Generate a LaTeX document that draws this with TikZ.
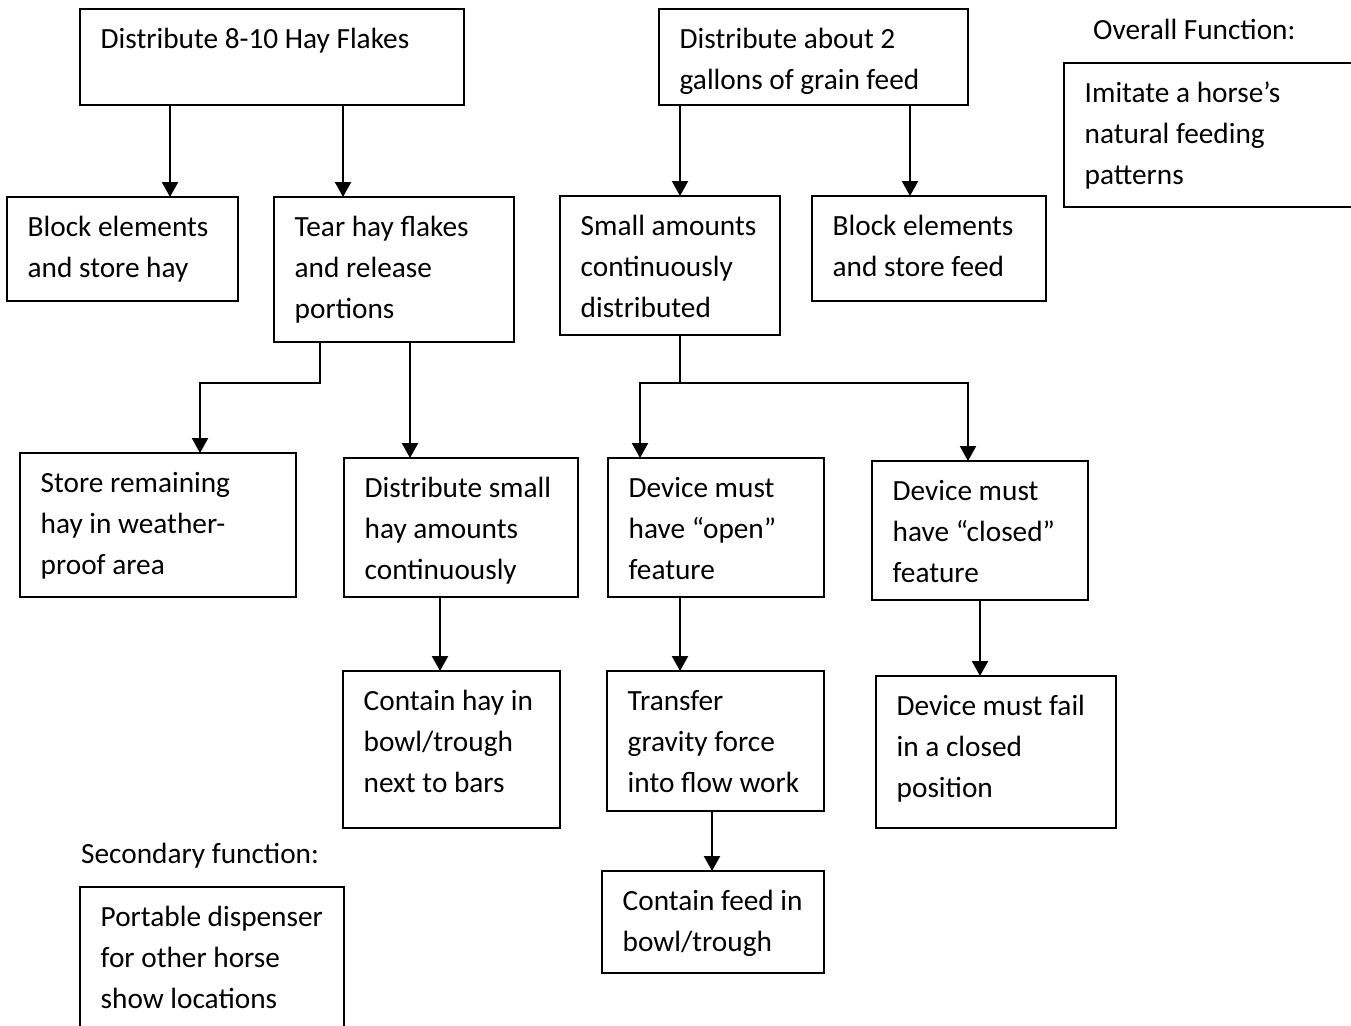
\documentclass[tikz,border=0pt]{standalone}
\usepackage{fontspec}
\setmainfont{Carlito}
\usetikzlibrary{arrows.meta,calc}
\newcommand\fbx[6]{%
  \node[box, minimum width={#4-#2}, minimum height={#5-#3}] (#1) at (#2,#3) {};
  \node[txt] (#1t) at (#2+20.5,#3+15) {\rule{0pt}{24pt}#6};
}
\begin{document}
\begin{tikzpicture}[x=1pt,y=-1pt,
  box/.style={draw, line width=2.5pt, anchor=north west, inner sep=0pt, outer sep=0pt},
  txt/.style={anchor=north west, align=left, inner sep=0pt, font=\fontsize{29.3}{41.2}\selectfont},
  conn/.style={line width=2.3pt},
  arr/.style={line width=2.3pt, -{Triangle[width=16pt,length=15pt]}}]
\useasboundingbox (0,0) rectangle (1351,1025);
\clip (0,0) rectangle (1351,1025);

\fbx{b1}{80}{9}{464}{105}{Distribute 8-10 Hay Flakes}
\fbx{b2}{659}{9}{968}{105}{Distribute about 2\\gallons of grain feed}
\fbx{bov}{1064}{63}{1400}{207}{Imitate a horse’s\\natural feeding\\patterns}
\fbx{b5}{7}{197}{238}{301}{Block elements\\and store hay}
\fbx{b6}{274}{197}{514}{342}{Tear hay flakes\\and release\\portions}
\fbx{b7}{560}{196}{780}{335}{Small amounts\\continuously\\distributed}
\fbx{b8}{812}{196}{1046}{301}{Block elements\\and store feed}
\fbx{b9}{20}{453}{296}{597}{Store remaining\\hay in weather-\\proof area}
\fbx{b10}{344}{458}{578}{597}{Distribute small\\hay amounts\\continuously}
\fbx{b11}{608}{458}{824}{597}{Device must\\have “open”\\feature}
\fbx{b12}{872}{461}{1088}{600}{Device must\\have “closed”\\feature}
\fbx{b13}{343}{671}{560}{828}{Contain hay in\\bowl/trough\\next to bars}
\fbx{b14}{607}{671}{824}{811}{Transfer\\gravity force\\into flow work}
\fbx{b15}{876}{676}{1116}{828}{Device must fail\\in a closed\\position}
\fbx{b16}{602}{871}{824}{973}{Contain feed in\\bowl/trough}
\fbx{b18}{80}{887}{344}{1060}{Portable dispenser\\for other horse\\show locations}

\node[txt, anchor=base west] (lov) at (1093,40) {Overall Function:};
\node[txt, anchor=base west] (lsec) at (81,863) {Secondary function:};

\coordinate (c1) at (170,0);
\coordinate (c2) at (343,0);
\coordinate (c3) at (680,0);
\coordinate (c4) at (910,0);
\coordinate (c5) at (410,0);
\coordinate (c6) at (440,0);
\coordinate (c7) at (680,0);
\coordinate (c8) at (980,0);
\coordinate (c9) at (712,0);
\coordinate (e1) at (320,383);
\coordinate (e2) at (200,383);
\coordinate (j) at (680,383);
\coordinate (jl) at (640,383);
\coordinate (jr) at (968,383);

\draw[arr] (b1.south -| c1) -- (b5.north -| c1);
\draw[arr] (b1.south -| c2) -- (b6.north -| c2);
\draw[arr] (b2.south -| c3) -- (b7.north -| c3);
\draw[arr] (b2.south -| c4) -- (b8.north -| c4);
\draw[arr] (b6.south -| e1) -- (e1) -- (e2) -- (b9.north -| e2);
\draw[arr] (b6.south -| c5) -- (b10.north -| c5);
\draw[conn] (b7.south -| j) -- (j);
\draw[arr] (j) -- (jl) -- (b11.north -| jl);
\draw[arr] (j) -- (jr) -- (b12.north -| jr);
\draw[arr] (b10.south -| c6) -- (b13.north -| c6);
\draw[arr] (b11.south -| c7) -- (b14.north -| c7);
\draw[arr] (b12.south -| c8) -- (b15.north -| c8);
\draw[arr] (b14.south -| c9) -- (b16.north -| c9);
\end{tikzpicture}
\end{document}
